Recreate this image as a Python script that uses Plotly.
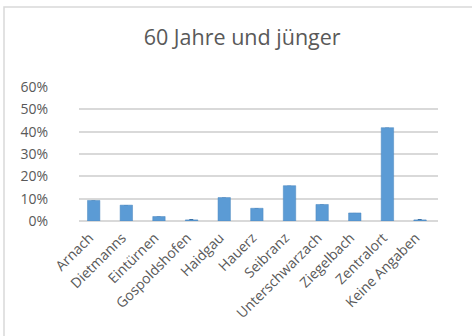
import plotly.graph_objects as go

categories = ["Arnach", "Dietmanns", "Eintürnen", "Gospoldshofen", "Haidgau", "Hauerz",
              "Seibranz", "Unterschwarzach", "Ziegelbach", "Zentralort", "Keine Angaben"]
values = [0.092, 0.071, 0.020, 0.005, 0.105, 0.057, 0.158, 0.074, 0.036, 0.418, 0.005]
tick_vals = [0, 0.1, 0.2, 0.3, 0.4, 0.5, 0.6]
tick_text = ["0%", "10%", "20%", "30%", "40%", "50%", "60%"]
title_text = "60 Jahre und jünger"

W, H = 472, 336
ML, MR, MT, MB = 79, 34, 87, 115
PW, PH = W - ML - MR, H - MT - MB

fig = go.Figure()
# darker side face for a 3D look
fig.add_trace(go.Bar(x=categories, y=values, width=0.12, offset=-0.12,
                     marker=dict(color="#2F649A", line=dict(width=0)), hoverinfo="skip"))
# front face
fig.add_trace(go.Bar(x=categories, y=values, width=0.38, offset=-0.24,
                     marker=dict(color="#5B9BD5", line=dict(color="#4A86BE", width=0.5))))

fig.update_layout(
    width=W, height=H,
    margin=dict(l=ML, r=MR, t=MT, b=MB),
    paper_bgcolor="white", plot_bgcolor="white",
    showlegend=False, barmode="overlay",
    title=dict(text=title_text, x=0.513, xanchor="center", y=1 - 37 / H, yanchor="middle",
               font=dict(family="Open Sans", size=21.5, color="#595959")),
    font=dict(family="Open Sans", color="#595959"),
    xaxis=dict(tickangle=-45, tickfont=dict(size=14, color="#595959"),
               showgrid=False, showline=False, ticks="", automargin=False,
               ticklabelstandoff=5, ticklabelshift=-6),
    yaxis=dict(range=[0, 0.6], tickvals=tick_vals, ticktext=tick_text,
               tickfont=dict(size=14, color="#595959"),
               showgrid=True, gridcolor="#D9D9D9", gridwidth=2,
               zeroline=True, zerolinecolor="#D9D9D9", zerolinewidth=2,
               showline=False, ticks="", ticklabelstandoff=30, automargin=False),
    shapes=[dict(type="rect", xref="paper", yref="paper",
                 x0=(4 - ML) / PW, x1=(W + 20 - ML) / PW,
                 y0=-(H + 20 - (H - MB)) / PH, y1=(H - MB - 7) / PH,
                 line=dict(color="#D9D9D9", width=1.5), fillcolor="rgba(0,0,0,0)")],
)
fig.write_html("out.html", config={"displayModeBar": False},
               post_script="document.body.style.margin='0';")
